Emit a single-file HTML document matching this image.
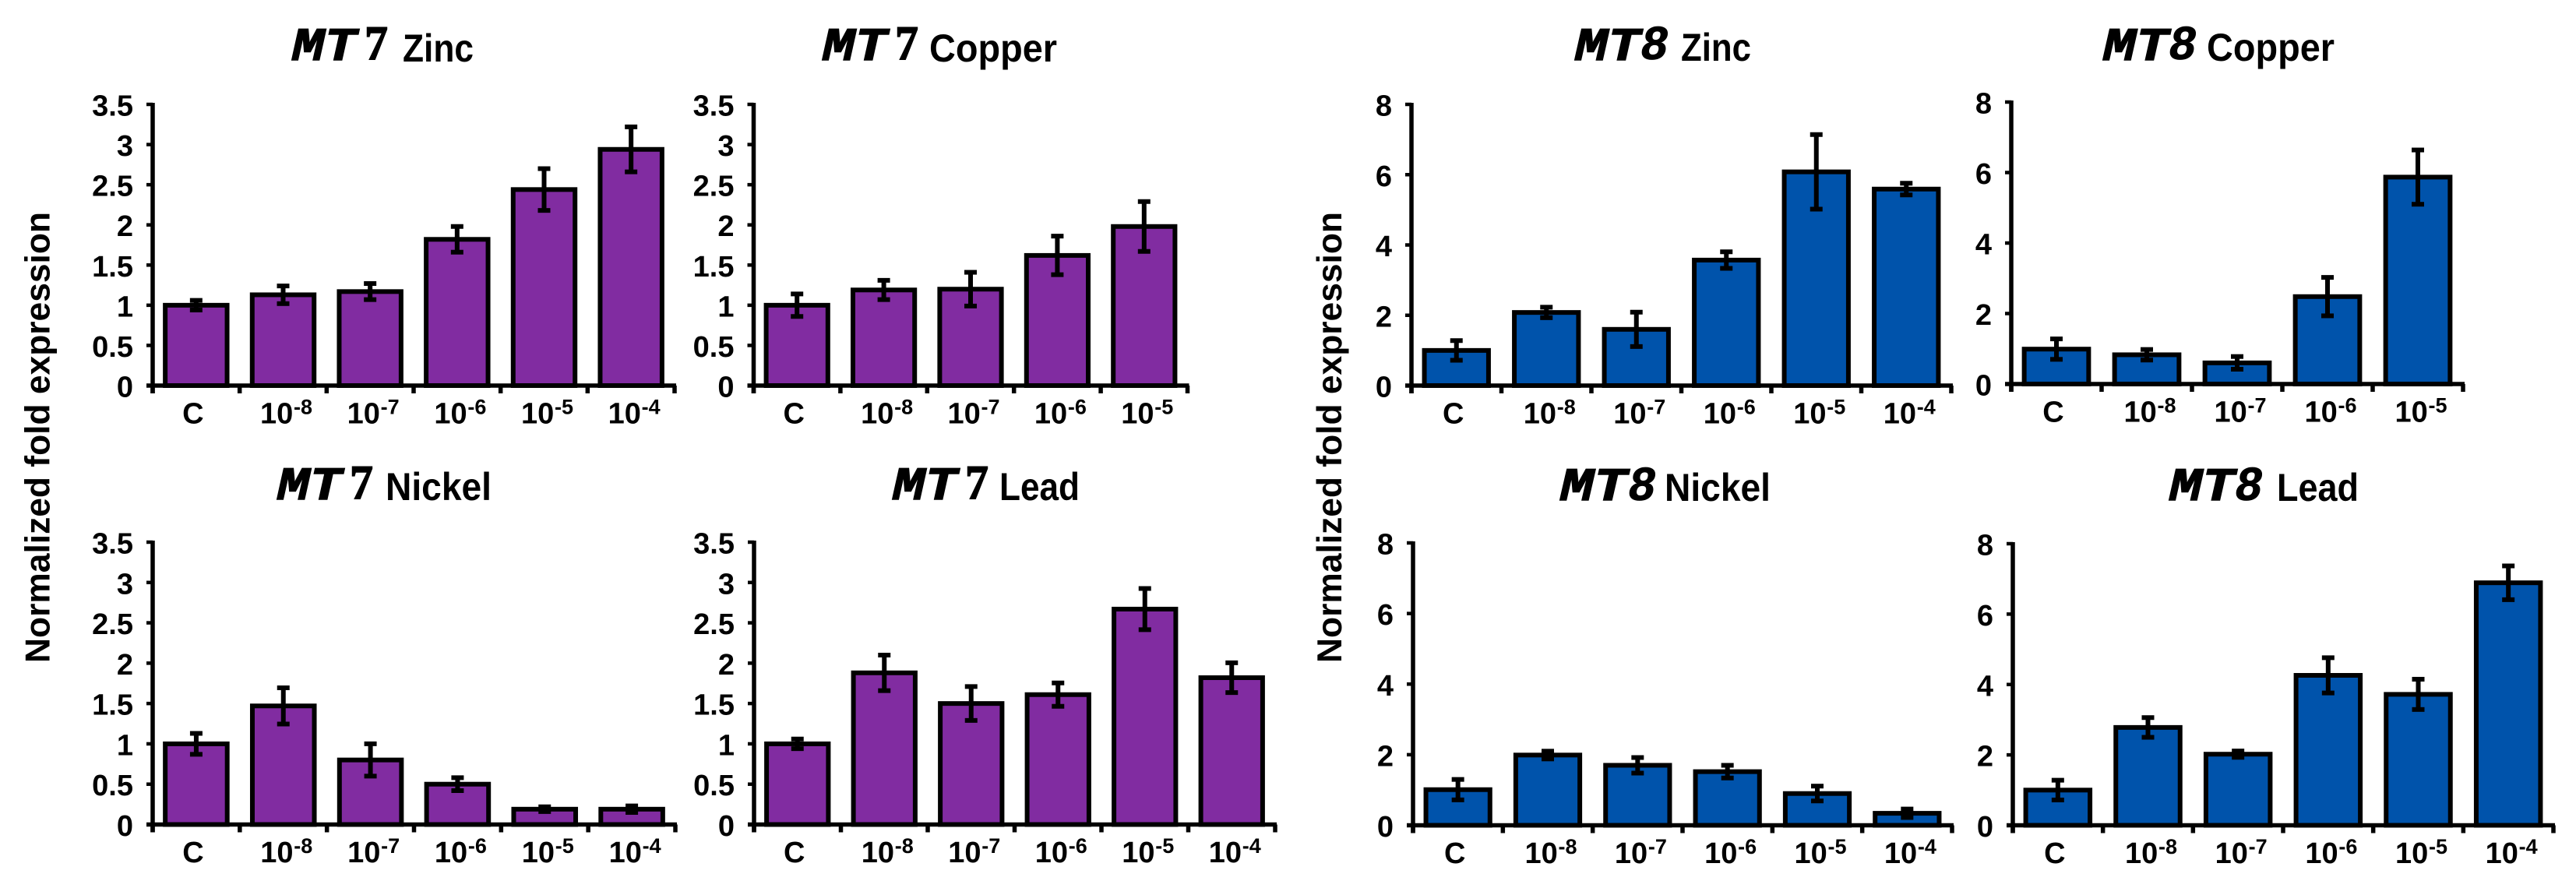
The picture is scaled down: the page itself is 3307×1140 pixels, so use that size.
<!DOCTYPE html>
<html lang="en">
<head>
<meta charset="utf-8">
<title>MT7 and MT8 normalized fold expression under metal exposure</title>
<style>
html,body{margin:0;padding:0;background:#fff;width:3307px;height:1140px;overflow:hidden}
svg{display:block}
text{fill:#000;font-family:"Liberation Sans",Arial,sans-serif;font-weight:700}
.mt{font-family:"Liberation Mono",monospace;font-style:italic;font-size:60px;stroke:#000;stroke-width:1.4px}
.dg7{font-family:"Liberation Serif",serif;font-size:62px;font-style:normal;stroke:#000;stroke-width:1.4px}
.dg8{font-family:"Liberation Mono",monospace;font-style:italic;font-size:62px;stroke:#000;stroke-width:.8px}
.metal{font-size:50px}
.yt{font-size:44.5px}
</style>
</head>
<body>
<svg id="chart" xmlns="http://www.w3.org/2000/svg" width="3307" height="1140" viewBox="0 0 3307 1140">
  <rect x="0" y="0" width="3307" height="1140" fill="#fff"/>

  <text class="yt" transform="translate(63.5 851) rotate(-90)" textLength="579" lengthAdjust="spacingAndGlyphs">Normalized fold expression</text>
  <text class="yt" transform="translate(1722 851) rotate(-90)" textLength="579" lengthAdjust="spacingAndGlyphs">Normalized fold expression</text>

  <g>
    <text class="mt" x="375" y="77" textLength="83" lengthAdjust="spacingAndGlyphs">MT</text>
    <text class="dg7" x="468" y="76" textLength="30" lengthAdjust="spacingAndGlyphs">7</text>
    <text class="metal" x="517" y="79" textLength="91" lengthAdjust="spacingAndGlyphs">Zinc</text>
  </g>
  <g>
    <text class="mt" x="1056" y="77" textLength="83" lengthAdjust="spacingAndGlyphs">MT</text>
    <text class="dg7" x="1149" y="76" textLength="30" lengthAdjust="spacingAndGlyphs">7</text>
    <text class="metal" x="1193" y="79" textLength="164" lengthAdjust="spacingAndGlyphs">Copper</text>
  </g>
  <g>
    <text class="mt" x="356" y="641" textLength="83" lengthAdjust="spacingAndGlyphs">MT</text>
    <text class="dg7" x="449" y="640" textLength="30" lengthAdjust="spacingAndGlyphs">7</text>
    <text class="metal" x="495" y="642" textLength="136" lengthAdjust="spacingAndGlyphs">Nickel</text>
  </g>
  <g>
    <text class="mt" x="1146" y="641" textLength="83" lengthAdjust="spacingAndGlyphs">MT</text>
    <text class="dg7" x="1239" y="640" textLength="30" lengthAdjust="spacingAndGlyphs">7</text>
    <text class="metal" x="1283" y="642" textLength="103" lengthAdjust="spacingAndGlyphs">Lead</text>
  </g>
  <g>
    <text class="mt" x="2022" y="77" textLength="84" lengthAdjust="spacingAndGlyphs">MT</text>
    <text class="dg8" x="2106" y="76" textLength="36" lengthAdjust="spacingAndGlyphs">8</text>
    <text class="metal" x="2158" y="78" textLength="90" lengthAdjust="spacingAndGlyphs">Zinc</text>
  </g>
  <g>
    <text class="mt" x="2700" y="77" textLength="84" lengthAdjust="spacingAndGlyphs">MT</text>
    <text class="dg8" x="2784" y="76" textLength="36" lengthAdjust="spacingAndGlyphs">8</text>
    <text class="metal" x="2833" y="78" textLength="164" lengthAdjust="spacingAndGlyphs">Copper</text>
  </g>
  <g>
    <text class="mt" x="2003" y="642" textLength="86" lengthAdjust="spacingAndGlyphs">MT</text>
    <text class="dg8" x="2090" y="642" textLength="36" lengthAdjust="spacingAndGlyphs">8</text>
    <text class="metal" x="2137" y="643" textLength="136" lengthAdjust="spacingAndGlyphs">Nickel</text>
  </g>
  <g>
    <text class="mt" x="2785" y="642" textLength="84" lengthAdjust="spacingAndGlyphs">MT</text>
    <text class="dg8" x="2869" y="642" textLength="36" lengthAdjust="spacingAndGlyphs">8</text>
    <text class="metal" x="2923" y="643" textLength="105" lengthAdjust="spacingAndGlyphs">Lead</text>
  </g>
</svg>

<script>
// ---- chart data ----
const categoriesSix = ['C', '-8', '-7', '-6', '-5', '-4'];
const categoriesFive = ['C', '-8', '-7', '-6', '-5'];
const mt7TickLabels = ['0', '0.5', '1', '1.5', '2', '2.5', '3', '3.5'];
const mt8TickLabels = ['0', '2', '4', '6', '8'];

const mt7ZincValues = [1.0, 1.13, 1.17, 1.82, 2.44, 2.94];
const mt7ZincErrors = [0.06, 0.11, 0.10, 0.16, 0.26, 0.28];
const mt7CopperValues = [1.0, 1.19, 1.2, 1.62, 1.98];
const mt7CopperErrors = [0.14, 0.12, 0.21, 0.24, 0.31];
const mt7NickelValues = [1.0, 1.47, 0.8, 0.5, 0.19, 0.19];
const mt7NickelErrors = [0.13, 0.225, 0.2, 0.08, 0.03, 0.04];
const mt7LeadValues = [1.0, 1.88, 1.5, 1.61, 2.67, 1.82];
const mt7LeadErrors = [0.06, 0.22, 0.21, 0.145, 0.255, 0.185];

const mt8ZincValues = [1.0, 2.08, 1.6, 3.57, 6.08, 5.59];
const mt8ZincErrors = [0.28, 0.15, 0.49, 0.235, 1.06, 0.165];
const mt8CopperValues = [0.99, 0.83, 0.6, 2.48, 5.87];
const mt8CopperErrors = [0.29, 0.15, 0.18, 0.545, 0.77];
const mt8NickelValues = [1.01, 1.99, 1.7, 1.52, 0.9, 0.34];
const mt8NickelErrors = [0.29, 0.11, 0.22, 0.18, 0.21, 0.12];
const mt8LeadValues = [1.0, 2.78, 2.02, 4.26, 3.72, 6.89];
const mt8LeadErrors = [0.28, 0.28, 0.09, 0.5, 0.43, 0.48];

// ---- panel layout ----
const PURPLE = '#812ca1';
const BLUE = '#0053ab';
const panelList = [
  {id:'mt7-zinc',   cats:categoriesSix,  vals:mt7ZincValues,   errs:mt7ZincErrors,   ticks:mt7TickLabels, max:3.5, fill:PURPLE, l:196,  r:866,  t:134, b:495},
  {id:'mt7-copper', cats:categoriesFive, vals:mt7CopperValues, errs:mt7CopperErrors, ticks:mt7TickLabels, max:3.5, fill:PURPLE, l:967.5,r:1524.5,t:134, b:495},
  {id:'mt7-nickel', cats:categoriesSix,  vals:mt7NickelValues, errs:mt7NickelErrors, ticks:mt7TickLabels, max:3.5, fill:PURPLE, l:196,  r:867,  t:696, b:1058.5},
  {id:'mt7-lead',   cats:categoriesSix,  vals:mt7LeadValues,   errs:mt7LeadErrors,   ticks:mt7TickLabels, max:3.5, fill:PURPLE, l:968,  r:1637, t:696, b:1058.5},
  {id:'mt8-zinc',   cats:categoriesSix,  vals:mt8ZincValues,   errs:mt8ZincErrors,   ticks:mt8TickLabels, max:8,   fill:BLUE,   l:1812, r:2505, t:134, b:495},
  {id:'mt8-copper', cats:categoriesFive, vals:mt8CopperValues, errs:mt8CopperErrors, ticks:mt8TickLabels, max:8,   fill:BLUE,   l:2582, r:3162, t:131, b:493},
  {id:'mt8-nickel', cats:categoriesSix,  vals:mt8NickelValues, errs:mt8NickelErrors, ticks:mt8TickLabels, max:8,   fill:BLUE,   l:1814, r:2506, t:697, b:1059.5},
  {id:'mt8-lead',   cats:categoriesSix,  vals:mt8LeadValues,   errs:mt8LeadErrors,   ticks:mt8TickLabels, max:8,   fill:BLUE,   l:2584, r:3278, t:698, b:1059.5}
];

const NS = 'http://www.w3.org/2000/svg';
const root = document.getElementById('chart');

function make(tag, attrs, parent, content) {
  const el = document.createElementNS(NS, tag);
  for (const k in attrs) el.setAttribute(k, attrs[k]);
  if (content !== undefined) el.textContent = content;
  parent.appendChild(el);
  return el;
}

function drawPanel(p) {
  const band = (p.r - p.l) / p.cats.length;
  const xBand = i => p.l + band * (i + 0.5);
  const yScale = v => p.b - (v / p.max) * (p.b - p.t);

  const g = make('g', {}, root);
  
  

  // bars
  p.vals.forEach((v, i) => {
    const w = band * 0.765 - 6;
    const bar = make('rect', {x: xBand(i) - w / 2, y: yScale(v), width: w, height: p.b - yScale(v), fill: p.fill, stroke: '#000', 'stroke-width': 6}, g);
    
    
  });

  // axes
  const yAxis = make('line', {x1: p.l, x2: p.l, y1: p.t - 2, y2: p.b + 10, stroke: '#000', 'stroke-width': 5.5}, g);
  
  
  const xAxis = make('line', {x1: p.l - 8, x2: p.r + 2, y1: p.b, y2: p.b, stroke: '#000', 'stroke-width': 5.5}, g);
  
  

  // y ticks and labels
  p.ticks.forEach(label => {
    const y = yScale(parseFloat(label));
    const tick = make('line', {x1: p.l - 8, x2: p.l, y1: y, y2: y, stroke: '#000', 'stroke-width': 4.5}, g);
    
    
    const tickLabel = make('text', {x: p.l - 25, y: y + 14.5, 'text-anchor': 'end', 'font-size': 38}, g, label);
    
    
  });

  // x ticks
  for (let i = 0; i <= p.cats.length; i++) {
    const x = p.l + band * i;
    const tick = make('line', {x1: x, x2: x, y1: p.b, y2: p.b + 10, stroke: '#000', 'stroke-width': 5.5}, g);
    
    
  }

  // category labels
  p.cats.forEach((c, i) => {
    const cx = xBand(i);
    const base = p.b + 48.3;
    const lab = make('g', {}, g);
    
    
    if (c === 'C') {
      make('text', {x: cx - 4, y: base, 'text-anchor': 'middle', 'font-size': 38}, lab, 'C');
    } else {
      make('text', {x: cx - 29.5, y: base, 'font-size': 38}, lab, '10');
      make('text', {x: cx + 13.5, y: base - 11.6, 'font-size': 27}, lab, c);
    }
  });

  // error bars
  p.vals.forEach((v, i) => {
    const e = p.errs[i];
    const cx = xBand(i);
    const eb = make('g', {stroke: '#000', fill: 'none'}, g);
    
    
    make('line', {x1: cx, x2: cx, y1: yScale(v + e), y2: yScale(v - e), 'stroke-width': 6}, eb);
    make('line', {x1: cx - 8, x2: cx + 8, y1: yScale(v + e), y2: yScale(v + e), 'stroke-width': 6}, eb);
    make('line', {x1: cx - 8, x2: cx + 8, y1: yScale(v - e), y2: yScale(v - e), 'stroke-width': 6}, eb);
  });
}

panelList.forEach(drawPanel);
</script>
</body>
</html>
